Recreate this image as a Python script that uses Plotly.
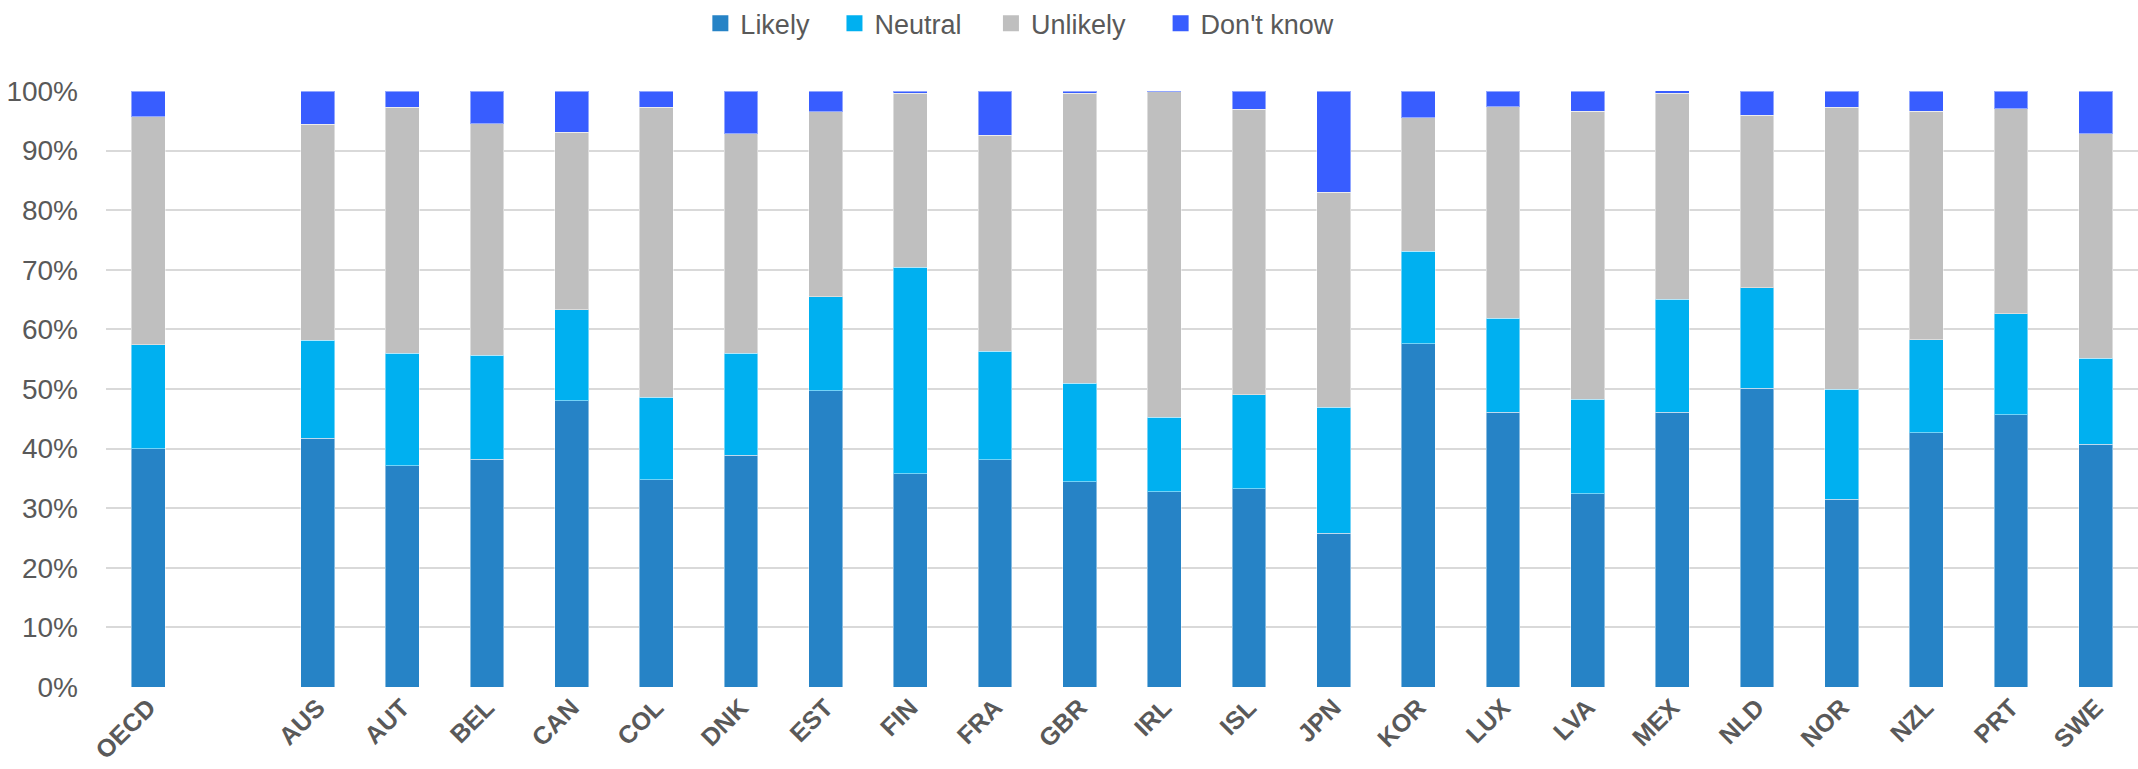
import plotly.graph_objects as go

countries = ["OECD", " ", "AUS", "AUT", "BEL", "CAN", "COL", "DNK", "EST", "FIN", "FRA", "GBR",
             "IRL", "ISL", "JPN", "KOR", "LUX", "LVA", "MEX", "NLD", "NOR", "NZL", "PRT", "SWE"]

likely =    [40.0, None, 41.7, 37.1, 38.2, 48.0, 34.8, 38.9, 49.7, 35.8, 38.1, 34.4,
             32.8, 33.3, 25.8, 57.6, 46.1, 32.4, 46.1, 50.1, 31.5, 42.7, 45.7, 40.7]
neutral =   [17.4, None, 16.5, 18.9, 17.5, 15.3, 13.8, 17.1, 15.8, 34.6, 18.2, 16.6,
             12.5, 15.7, 21.1, 15.5, 15.8, 15.9, 19.0, 16.9, 18.5, 15.6, 16.9, 14.5]
unlikely =  [38.3, None, 36.2, 41.3, 38.8, 29.8, 48.7, 36.8, 31.0, 29.2, 36.3, 48.6,
             54.6, 47.9, 36.1, 22.4, 35.5, 48.3, 34.5, 28.9, 47.3, 38.3, 34.4, 37.6]
dont_know = [4.3, None, 5.6, 2.7, 5.5, 6.9, 2.7, 7.2, 3.5, 0.4, 7.4, 0.4,
             0.2, 3.1, 17.0, 4.5, 2.6, 3.4, 0.5, 4.1, 2.7, 3.4, 3.0, 7.2]

series_names = ["Likely", "Neutral", "Unlikely", "Don't know"]
series_values = [likely, neutral, unlikely, dont_know]
colors = ["#2683C6", "#00B0F0", "#BFBFBF", "#385DFF"]
legend_ids = ["legend", "legend2", "legend3", "legend4"]
legend_x = [0.2925, 0.3585, 0.4355, 0.519]   # paper positions of the legend entries

y_ticks = [i / 10 for i in range(11)]

sans = "Liberation Sans, Arial, sans-serif"

fig = go.Figure()
for name, vals, col, lid in zip(series_names, series_values, colors, legend_ids):
    fig.add_trace(go.Bar(
        x=countries,
        y=[None if v is None else v / 100 for v in vals],
        name=name,
        marker=dict(color=col, line=dict(color="rgba(255,255,255,0.45)", width=1)),
        width=0.4,
        showlegend=False,
        hovertemplate="%{x}: %{y:.1%}<extra>" + name + "</extra>",
    ))
    fig.add_trace(go.Scatter(
        x=[None], y=[None], mode="markers", name=name,
        marker=dict(symbol="square", size=17, color=col),
        showlegend=True, hoverinfo="skip", legend=lid,
    ))

legend_common = dict(
    orientation="h",
    xanchor="left",
    y=1.113, yanchor="middle",
    font=dict(family=sans, size=27, color="#595959"),
    itemsizing="trace",
    bgcolor="rgba(0,0,0,0)",
)
legends = {lid: dict(legend_common, x=lx) for lid, lx in zip(legend_ids, legend_x)}

fig.update_layout(
    barmode="stack",
    width=2138, height=769,
    margin=dict(l=106, r=0, t=91, b=82, pad=0, autoexpand=False),
    paper_bgcolor="white",
    plot_bgcolor="white",
    font=dict(family=sans, color="#595959", size=28),
    xaxis=dict(
        type="category",
        categoryorder="array",
        categoryarray=countries,
        range=[-0.5, len(countries) - 0.5],
        tickangle=-45,
        tickfont=dict(family=sans, size=25, color="#595959", weight="bold"),
        showgrid=False,
        showline=False,
        ticks="",
        zeroline=False,
        automargin=False,
    ),
    yaxis=dict(
        range=[0, 1],
        tickvals=y_ticks,
        tickformat=".0%",
        showgrid=True,
        gridcolor="#D9D9D9",
        gridwidth=2,
        zeroline=False,
        showline=False,
        ticks="",
        ticklabelstandoff=27,
        tickfont=dict(family=sans, size=28, color="#595959"),
        automargin=False,
    ),
    **legends,
)

fig.write_html("out.html")
